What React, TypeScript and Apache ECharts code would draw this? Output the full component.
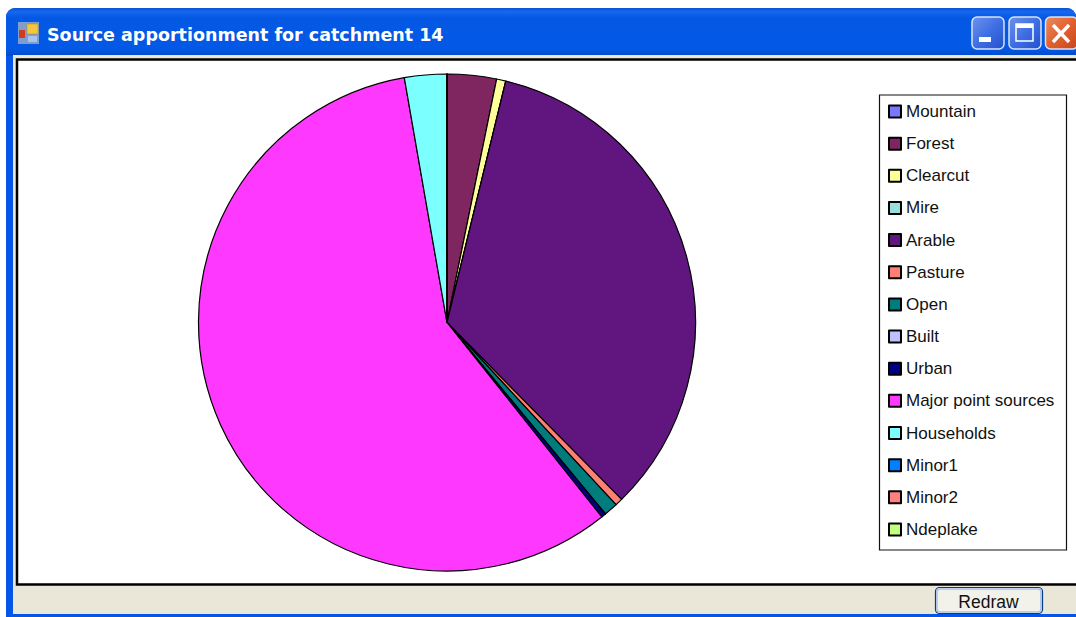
import React, { useEffect, useRef } from "react";
import * as echarts from "echarts";

const categories = ["Mountain","Forest","Clearcut","Mire","Arable","Pasture","Open","Built","Urban","Major point sources","Households","Minor1","Minor2","Ndeplake"];
const shares = [0, 3.2, 0.6, 0, 33.8, 0.5, 0.9, 0, 0.3, 57.95, 2.75, 0, 0, 0];
const colors = ["#7878ff","#7f2660","#ffff99","#99e0dd","#60157f","#ff8073","#007c7c","#c0c0ff","#000080","#ff38ff","#7cffff","#0080ff","#ff8080","#c0ff80"];
const windowTitle = "Source apportionment for catchment 14";
const buttonLabel = "Redraw";

export default function App() {
  const ref = useRef<HTMLDivElement>(null);
  useEffect(() => {
    const chart = echarts.init(ref.current!, null, { renderer: "svg" });
    const titleGrad = { type: "linear", x: 0, y: 0, x2: 0, y2: 1, colorStops: [
      { offset: 0, color: "#0a52d8" }, { offset: 0.08, color: "#1668ee" }, { offset: 0.2, color: "#0458e4" },
      { offset: 0.85, color: "#0358e6" }, { offset: 1, color: "#0349c8" } ] };
    const blueBtn = { type: "linear", x: 0, y: 0, x2: 1, y2: 1, colorStops: [
      { offset: 0, color: "#6f93ec" }, { offset: 0.5, color: "#3f6fe4" }, { offset: 1, color: "#2350cc" } ] };
    const redBtn = { type: "linear", x: 0, y: 0, x2: 1, y2: 1, colorStops: [
      { offset: 0, color: "#ec8a60" }, { offset: 0.5, color: "#e2602e" }, { offset: 1, color: "#c8441c" } ] };
    const btn = (x: number, width: number, fill: any) => ({ type: "rect", z: 1, shape: { x, y: 17, width, height: 32, r: 5 },
      style: { fill, stroke: "#d8e4fa", lineWidth: 1.5 } });
    chart.setOption({
      animation: false,
      backgroundColor: "#ffffff",
      tooltip: { show: false },
      legend: {
        show: true, orient: "vertical", left: 885, top: 100, padding: 3,
        itemWidth: 12, itemHeight: 12, itemGap: 15.15, icon: "rect", selectedMode: false,
        data: categories,
        textStyle: { fontFamily: "Liberation Sans", fontSize: 17, lineHeight: 16, color: "#111" },
      },
      graphic: [
        { type: "rect", z: 0, shape: { x: 6, y: 8, width: 1070, height: 609, r: [9, 9, 0, 0] }, style: { fill: "#0456e6" } },
        { type: "rect", z: 0, shape: { x: 6, y: 8, width: 1070, height: 48, r: [9, 9, 0, 0] }, style: { fill: titleGrad } },
        { type: "rect", z: 0, shape: { x: 13, y: 55, width: 1063, height: 559 }, style: { fill: "#ebe7d8" } },
        { type: "rect", z: 0, shape: { x: 17, y: 59.5, width: 1062, height: 525 }, style: { fill: "#ffffff", stroke: "#000", lineWidth: 2.5 } },
        { type: "rect", z: 0, shape: { x: 13, y: 586, width: 1063, height: 28 }, style: { fill: "#ebe7d8" } },
        { type: "rect", z: 5, shape: { x: 879.5, y: 95, width: 187, height: 455 }, style: { fill: "transparent", stroke: "#111", lineWidth: 1.2 } },
        // window icon
        { type: "rect", z: 1, shape: { x: 18, y: 22, width: 21, height: 22 }, style: { fill: "#7f9ed0" } },
        { type: "rect", z: 1, shape: { x: 27, y: 24, width: 11, height: 10 }, style: { fill: "#f5c63c", stroke: "#b8860b", lineWidth: 0.5 } },
        { type: "rect", z: 1, shape: { x: 19, y: 30, width: 6, height: 8 }, style: { fill: "#d23a20" } },
        { type: "rect", z: 1, shape: { x: 28, y: 36, width: 9, height: 6 }, style: { fill: "#a8c4ee" } },
        // title
        { type: "text", z: 2, x: 47, y: 35, style: { text: windowTitle, fontFamily: "DejaVu Sans", fontWeight: "bold", fontSize: 17.5, fill: "#ffffff",
          textVerticalAlign: "middle", shadowColor: "#00208a", shadowBlur: 1, shadowOffsetX: 1, shadowOffsetY: 1 } },
        // window buttons
        btn(972, 32, blueBtn),
        btn(1009, 32, blueBtn),
        btn(1045.5, 32, redBtn),
        { type: "rect", z: 2, shape: { x: 979, y: 37, width: 12, height: 5 }, style: { fill: "#ffffff" } },
        { type: "rect", z: 2, shape: { x: 1016, y: 24, width: 17, height: 17 }, style: { fill: "transparent", stroke: "#ffffff", lineWidth: 1.5 } },
        { type: "rect", z: 2, shape: { x: 1016, y: 24, width: 17, height: 4 }, style: { fill: "#ffffff" } },
        { type: "line", z: 2, shape: { x1: 1053, y1: 25, x2: 1069, y2: 42 }, style: { stroke: "#ffffff", lineWidth: 3.5 } },
        { type: "line", z: 2, shape: { x1: 1069, y1: 25, x2: 1053, y2: 42 }, style: { stroke: "#ffffff", lineWidth: 3.5 } },
        // Redraw button
        { type: "rect", z: 2, shape: { x: 935.5, y: 587.5, width: 107, height: 26, r: 4 }, style: { fill: "#f3f2ea", stroke: "#0a3a86", lineWidth: 1.2 } },
        { type: "rect", z: 2, shape: { x: 937, y: 589, width: 104, height: 23, r: 3 }, style: { fill: "transparent", stroke: "#a9c3ec", lineWidth: 1.6 } },
        { type: "text", z: 3, x: 988.5, y: 602, style: { text: buttonLabel, fontFamily: "Liberation Sans", fontSize: 17.5, fill: "#111", textAlign: "center", textVerticalAlign: "middle" } },
      ],
      series: [{
        type: "pie", z: 3, center: [447, 322.5], radius: [0, 248.5], startAngle: 90, clockwise: true, silent: true,
        minAngle: 0, avoidLabelOverlap: false, stillShowZeroSum: true,
        label: { show: false }, labelLine: { show: false },
        itemStyle: { borderColor: "#000", borderWidth: 1.2 },
        data: categories.map((name, i) => ({ name, value: shares[i], itemStyle: { color: colors[i] } })),
      }],
    });
    return () => chart.dispose();
  }, []);
  return <div ref={ref} style={{ position: "absolute", left: 0, top: 0, width: 1076, height: 617 }} />;
}
